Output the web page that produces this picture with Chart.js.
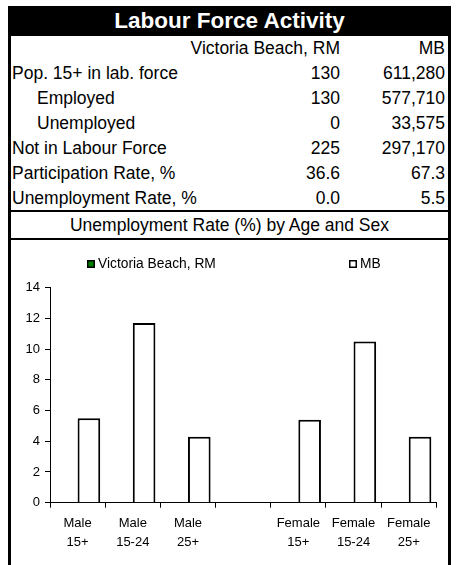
<!DOCTYPE html>
<html>
<head>
<meta charset="utf-8">
<script src="https://cdn.jsdelivr.net/npm/chart.js@4"></script>
<style>
  html,body{margin:0;padding:0;background:#fff;width:457px;height:565px;overflow:hidden;font-family:"Liberation Sans",Arial,sans-serif;}
  .frame{position:absolute;left:8px;top:6px;width:437px;height:570px;border:3px solid #000;border-bottom:none;}
  .title{position:absolute;left:8px;top:6px;width:443px;height:30px;background:#000;color:#fff;font-weight:bold;font-size:22.5px;line-height:30px;text-align:center;}
  .row{position:absolute;left:11px;width:437px;height:25px;line-height:25px;font-size:17.5px;color:#000;white-space:nowrap;}
  .row .lab{position:absolute;left:1px;}
  .row .lab.ind{left:26px;}
  .row .c1{position:absolute;right:108px;}
  .row .c2{position:absolute;right:3px;}
  .hline{position:absolute;left:8px;width:443px;height:2px;background:#000;}
  .sub{position:absolute;left:11px;top:212px;width:437px;height:26px;line-height:26px;text-align:center;font-size:17.5px;}
  canvas{position:absolute;left:11px;top:240px;}
</style>
</head>
<body>
<div class="frame"></div>
<div class="title">Labour Force Activity</div>
<div id="table"></div>
<div class="hline" style="top:210px"></div>
<div class="sub">Unemployment Rate (%) by Age and Sex</div>
<div class="hline" style="top:238px"></div>
<canvas id="c" width="437" height="325"></canvas>
<script>
// ---- table data ----
const tableHeader = ["", "Victoria Beach, RM", "MB"];
const rowLabels = ["Pop. 15+ in lab. force", "Employed", "Unemployed", "Not in Labour Force", "Participation Rate, %", "Unemployment Rate, %"];
const rowIndented = [false, true, true, false, false, false];
const victoriaValues = ["130", "130", "0", "225", "36.6", "0.0"];
const mbValues = ["611,280", "577,710", "33,575", "297,170", "67.3", "5.5"];

// ---- chart data ----
const categories = [["Male","15+"],["Male","15-24"],["Male","25+"],"",["Female","15+"],["Female","15-24"],["Female","25+"]];
const seriesVictoria = [0, 0, 0, null, 0, 0, 0];
const seriesMB = [5.5, 11.7, 4.3, null, 5.4, 10.5, 4.3];
const yTicks = [0, 2, 4, 6, 8, 10, 12, 14];

// build table
const t = document.getElementById('table');
function addRow(i, lab, ind, v1, v2){
  const d = document.createElement('div');
  d.className = 'row';
  d.style.top = (36 + 25*i) + 'px';
  d.innerHTML = '<span class="lab'+(ind?' ind':'')+'">'+lab+'</span><span class="c1">'+v1+'</span><span class="c2">'+v2+'</span>';
  t.appendChild(d);
}
addRow(0, tableHeader[0], false, tableHeader[1], tableHeader[2]);
rowLabels.forEach((l,i)=>addRow(i+1, l, rowIndented[i], victoriaValues[i], mbValues[i]));

const FONT = "'Liberation Sans', Arial, sans-serif";

const legendPlugin = {
  id: 'xlLegend',
  afterDraw(chart){
    const ctx = chart.ctx;
    const pos = [{x:76, y:20}, {x:338, y:20}];
    ctx.save();
    ctx.font = "13.8px " + FONT;
    ctx.textBaseline = 'middle';
    chart.data.datasets.forEach((ds, i)=>{
      const p = pos[i];
      ctx.fillStyle = ds.backgroundColor;
      ctx.fillRect(p.x, p.y, 8, 8);
      ctx.lineWidth = 1.5;
      ctx.strokeStyle = '#000';
      ctx.strokeRect(p.x+0.75, p.y+0.75, 6.5, 6.5);
      ctx.fillStyle = '#000';
      ctx.fillText(ds.label, p.x + 11, p.y + 4.5);
    });
    ctx.restore();
  }
};

new Chart(document.getElementById('c'), {
  type: 'bar',
  data: {
    labels: categories,
    datasets: [
      {label: 'Victoria Beach, RM', data: seriesVictoria, backgroundColor: '#008000', borderColor: '#000', borderWidth: 0},
      {label: 'MB', data: seriesMB, backgroundColor: '#ffffff', borderColor: '#000', borderWidth: 2}
    ]
  },
  options: {
    responsive: false,
    animation: false,
    devicePixelRatio: 1,
    categoryPercentage: 0.82,
    barPercentage: 1.0,
    layout: {padding: {left: 11, right: 11.7, top: 47.7, bottom: 17.3}},
    plugins: {legend: {display: false}, tooltip: {enabled: false}, title: {display: false}},
    scales: {
      x: {
        grid: {display: true, drawOnChartArea: false, drawTicks: true, tickLength: 5, color: '#000', offset: true},
        border: {display: true, color: '#000', width: 1},
        ticks: {color: '#000', font: {family: FONT, size: 13, lineHeight: 1.45}, padding: 6, maxRotation: 0, autoSkip: false},
        afterFit(s){ s.height = 45; }
      },
      y: {
        min: 0, max: 14,
        afterBuildTicks(s){ s.ticks = yTicks.map(v=>({value:v})); },
        grid: {display: true, drawOnChartArea: false, drawTicks: true, tickLength: 5, color: '#000'},
        border: {display: true, color: '#000', width: 1},
        ticks: {color: '#000', font: {family: FONT, size: 13}, padding: 5},
        afterFit(s){ s.width = 28; }
      }
    }
  },
  plugins: [legendPlugin]
});
</script>
</body>
</html>
